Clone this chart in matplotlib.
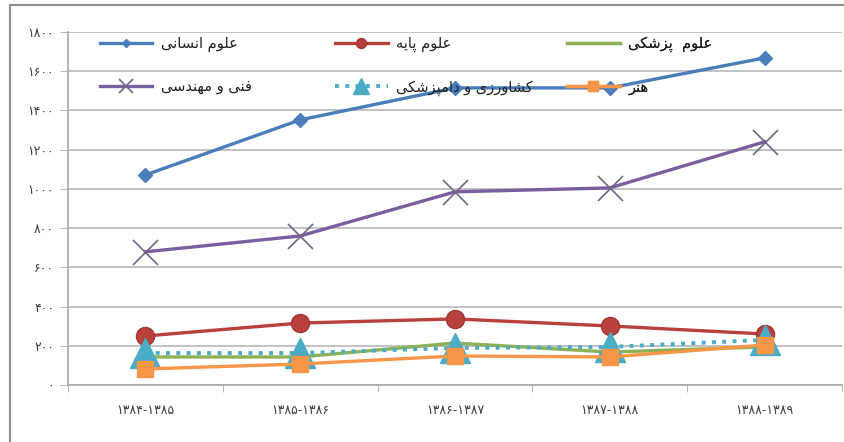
import matplotlib
matplotlib.use("Agg")
import matplotlib.pyplot as plt
from matplotlib.patches import Rectangle

# minimal Persian shaping (presentation forms) + RTL ordering
FORMS = {
    "ا": ("\uFE8D", "\uFE8E"), "د": ("\uFEA9", "\uFEAA"), "ر": ("\uFEAD", "\uFEAE"),
    "ز": ("\uFEAF", "\uFEB0"), "و": ("\uFEED", "\uFEEE"),
    "ع": ("\uFEC9", "\uFECA", "\uFECB", "\uFECC"), "ل": ("\uFEDD", "\uFEDE", "\uFEDF", "\uFEE0"),
    "م": ("\uFEE1", "\uFEE2", "\uFEE3", "\uFEE4"), "ن": ("\uFEE5", "\uFEE6", "\uFEE7", "\uFEE8"),
    "س": ("\uFEB1", "\uFEB2", "\uFEB3", "\uFEB4"), "ش": ("\uFEB5", "\uFEB6", "\uFEB7", "\uFEB8"),
    "ف": ("\uFED1", "\uFED2", "\uFED3", "\uFED4"), "ه": ("\uFEE9", "\uFEEA", "\uFEEB", "\uFEEC"),
    "پ": ("\uFB56", "\uFB57", "\uFB58", "\uFB59"), "ک": ("\uFB8E", "\uFB8F", "\uFB90", "\uFB91"),
    "ی": ("\uFBFC", "\uFBFD", "\uFBFE", "\uFBFF"),
}


def fa(text):
    out = []
    for i, ch in enumerate(text):
        if ch not in FORMS:
            out.append(ch)
            continue
        prev = text[i - 1] if i > 0 else " "
        nxt = text[i + 1] if i + 1 < len(text) else " "
        jp = prev in FORMS and len(FORMS[prev]) == 4
        jn = len(FORMS[ch]) == 4 and nxt in FORMS
        f = FORMS[ch]
        if jp and jn:
            out.append(f[3])
        elif jp:
            out.append(f[1])
        elif jn:
            out.append(f[2])
        else:
            out.append(f[0])
    return "".join(out)[::-1]


periods = ["۱۳۸۴-۱۳۸۵", "۱۳۸۵-۱۳۸۶", "۱۳۸۶-۱۳۸۷", "۱۳۸۷-۱۳۸۸", "۱۳۸۸-۱۳۸۹"]
ytick_vals = [0, 200, 400, 600, 800, 1000, 1200, 1400, 1600, 1800]
ytick_labels = ["۰", "۲۰۰", "۴۰۰", "۶۰۰", "۸۰۰", "۱۰۰۰", "۱۲۰۰", "۱۴۰۰", "۱۶۰۰", "۱۸۰۰"]

humanities = [1071, 1352, 1515, 1515, 1668]
basic_sci = [250, 316, 337, 301, 260]
medical = [143, 143, 214, 168, 194]
engineering = [679, 760, 985, 1005, 1240]
agri_vet = [163, 163, 189, 194, 230]
art = [82, 107, 148, 143, 204]

names = ["علوم انسانی", "علوم پایه", "علوم  پزشکی", "فنی و مهندسی", "کشاورزی و دامپزشکی", "هنر"]

fig = plt.figure(figsize=(8.45, 4.42), dpi=100)
ax = fig.add_axes([68 / 845, 1 - 385 / 442, 774 / 845, 353 / 442])

x = list(range(len(periods)))
lw = 2.4
l_med, = ax.plot(x, medical, color="#8DB255", lw=lw, zorder=3)
l_agri, = ax.plot(x, agri_vet, color="#4BACC6", lw=lw + 0.4, ls=":", marker="^", ms=22,
                  mec="#4BACC6", zorder=4)
l_art, = ax.plot(x, art, color="#F79646", lw=lw, marker="s", ms=12, zorder=5)
l_basic, = ax.plot(x, basic_sci, color="#B8403D", lw=lw, marker="o", ms=13,
                   mfc="#B8403D", mec="#A33532", zorder=3)
l_eng, = ax.plot(x, engineering, color="#7A5F9E", lw=lw, marker="x", ms=18,
                 mew=1.2, mec="#6E6685", zorder=3)
l_hum, = ax.plot(x, humanities, color="#4A7EBB", lw=lw, marker="D", ms=7, zorder=3)

ax.set_xlim(-0.5, 4.5)
ax.set_ylim(0, 1800)
ax.set_yticks(ytick_vals)
ax.set_yticklabels(ytick_labels)
ax.set_xticks(x)
ax.set_xticklabels(periods)
ax.set_xticks([i - 0.5 for i in range(len(periods) + 1)], minor=True)
ax.tick_params(axis="x", which="major", length=0, pad=14, labelsize=9, labelcolor="#404040")
ax.tick_params(axis="x", which="minor", length=5, color="#A8A8A8")
ax.tick_params(axis="y", length=6, color="#B8B8B8", labelsize=9, labelcolor="#404040", pad=4)
ax.grid(axis="y", color="#BDBDBD", lw=1.3)
ax.set_axisbelow(True)
for side in ["top", "right"]:
    ax.spines[side].set_visible(False)
for side in ["left", "bottom"]:
    ax.spines[side].set_color("#A8A8A8")
    ax.spines[side].set_linewidth(1.2)

# legend in three columns
cols = [([l_hum, l_eng], [names[0], names[3]], 0.041),
        ([l_basic, l_agri], [names[1], names[4]], 0.345),
        ([l_med, l_art], [names[2], names[5]], 0.645)]
for handles, labels, xa in cols:
    leg = ax.legend(handles, [fa(t) for t in labels], loc="upper left",
                    bbox_to_anchor=(xa, 0.988), frameon=False, fontsize=10.5,
                    handlelength=3.6, handletextpad=0.6, labelspacing=1.85,
                    borderpad=0, borderaxespad=0, markerscale=0.55)
    for t in leg.get_texts():
        t.set_color("#202020")
    ax.add_artist(leg)

fig.patches.append(Rectangle((10 / 845, -0.1), 1.2, 1 - 5 / 442 + 0.1,
                             transform=fig.transFigure, fill=False,
                             ec="#909090", lw=1.5))

fig.savefig("out.png", dpi=100)
